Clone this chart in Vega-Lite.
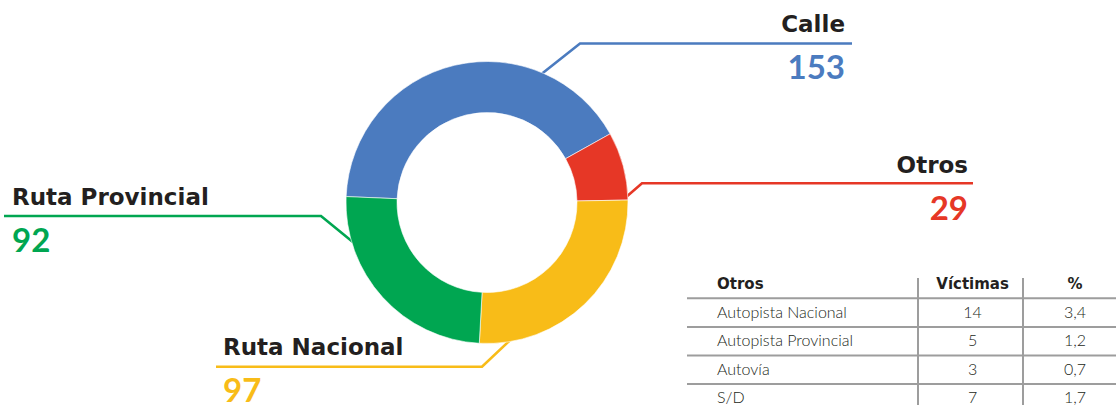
{
  "$schema": "https://vega.github.io/schema/vega-lite/v6.json",
  "width": 974,
  "height": 405,
  "autosize": {"type": "none"},
  "padding": {"left": 0, "top": 0, "right": 142, "bottom": 0},
  "background": "white",
  "config": {
    "view": {"stroke": null},
    "font": "Lato",
    "locale": {"number": {"decimal": ",", "thousands": ".", "grouping": [3], "currency": ["$", ""]}}
  },
  "datasets": {
    "tipos": [
      {"tipo": "Calle", "victimas": 153},
      {"tipo": "Otros", "victimas": 29},
      {"tipo": "Ruta Nacional", "victimas": 97},
      {"tipo": "Ruta Provincial", "victimas": 92}
    ],
    "guias": [
      {"tipo": "Calle", "punto": 1},
      {"tipo": "Calle", "punto": 2},
      {"tipo": "Calle", "punto": 3},
      {"tipo": "Otros", "punto": 4},
      {"tipo": "Otros", "punto": 5},
      {"tipo": "Otros", "punto": 6},
      {"tipo": "Ruta Provincial", "punto": 7},
      {"tipo": "Ruta Provincial", "punto": 8},
      {"tipo": "Ruta Provincial", "punto": 9},
      {"tipo": "Ruta Nacional", "punto": 10},
      {"tipo": "Ruta Nacional", "punto": 11},
      {"tipo": "Ruta Nacional", "punto": 12}
    ],
    "otros": [
      {"tipo": "Autopista Nacional", "victimas": 14, "porcentaje": 3.4},
      {"tipo": "Autopista Provincial", "victimas": 5, "porcentaje": 1.2},
      {"tipo": "Autovía", "victimas": 3, "porcentaje": 0.7},
      {"tipo": "S/D", "victimas": 7, "porcentaje": 1.7}
    ],
    "encabezado": [{"c1": "Otros", "c2": "Víctimas", "c3": "%"}]
  },
  "layer": [
    {
      "data": {"name": "guias"},
      "mark": {"type": "line", "strokeWidth": 2.6},
      "encoding": {
        "x": {"field": "punto", "type": "quantitative", "axis": null,
          "scale": {"domain": [1,2,3,4,5,6,7,8,9,10,11,12], "range": [852,580,520,973,642,610,4,321,370,216,482,515], "zero": false, "nice": false}},
        "y": {"field": "punto", "type": "quantitative", "axis": null,
          "scale": {"domain": [1,2,3,4,5,6,7,8,9,10,11,12], "range": [43.5,43.5,91,183.3,183.3,211,216,216,256,366.7,366.7,335.5], "zero": false, "nice": false}},
        "color": {"field": "tipo", "type": "nominal", "legend": null,
          "scale": {"domain": ["Calle", "Otros", "Ruta Nacional", "Ruta Provincial"], "range": ["#4b7bbf", "#e63726", "#f8bc18", "#00a651"]}},
        "order": {"field": "punto", "type": "quantitative"}
      }
    },
    {
      "data": {"name": "tipos"},
      "mark": {"type": "arc", "innerRadius": 90, "outerRadius": 141, "stroke": "white", "strokeWidth": 0.6},
      "encoding": {
        "theta": {"field": "victimas", "type": "quantitative", "stack": true, "scale": {"range": [4.7543, 11.0375]}},
        "color": {"field": "tipo", "type": "nominal", "legend": null,
          "scale": {"domain": ["Calle", "Otros", "Ruta Nacional", "Ruta Provincial"], "range": ["#4b7bbf", "#e63726", "#f8bc18", "#00a651"]}},
        "order": {"field": "tipo", "type": "ordinal"}
      }
    },
    {
      "data": {"name": "tipos"},
      "encoding": {
        "x": {"field": "victimas", "type": "quantitative", "axis": null,
          "scale": {"domain": [29, 92, 97, 153], "range": [968, 12, 223, 845], "zero": false, "nice": false}},
        "y": {"field": "victimas", "type": "quantitative", "axis": null,
          "scale": {"domain": [29, 92, 97, 153], "range": [173, 205, 355, 32], "zero": false, "nice": false}}
      },
      "layer": [
        {
          "transform": [{"filter": {"field": "tipo", "oneOf": ["Calle", "Otros"]}}],
          "mark": {"type": "text", "align": "right", "baseline": "alphabetic", "font": "DejaVu Sans", "fontSize": 23, "fontWeight": "bold", "fill": "#231f20"},
          "encoding": {"text": {"field": "tipo", "type": "nominal"}}
        },
        {
          "transform": [{"filter": {"field": "tipo", "oneOf": ["Ruta Nacional", "Ruta Provincial"]}}],
          "mark": {"type": "text", "align": "left", "baseline": "alphabetic", "font": "DejaVu Sans", "fontSize": 23, "fontWeight": "bold", "fill": "#231f20"},
          "encoding": {"text": {"field": "tipo", "type": "nominal"}}
        },
        {
          "transform": [{"filter": {"field": "tipo", "oneOf": ["Calle", "Otros"]}}],
          "mark": {"type": "text", "align": "right", "baseline": "alphabetic", "fontSize": 33, "fontWeight": "bold", "dy": 47},
          "encoding": {
            "text": {"field": "victimas", "type": "quantitative"},
            "color": {"field": "tipo", "type": "nominal", "legend": null,
              "scale": {"domain": ["Calle", "Otros", "Ruta Nacional", "Ruta Provincial"], "range": ["#4b7bbf", "#e63726", "#f8bc18", "#00a651"]}}
          }
        },
        {
          "transform": [{"filter": {"field": "tipo", "oneOf": ["Ruta Nacional", "Ruta Provincial"]}}],
          "mark": {"type": "text", "align": "left", "baseline": "alphabetic", "fontSize": 33, "fontWeight": "bold", "dy": 47},
          "encoding": {
            "text": {"field": "victimas", "type": "quantitative"},
            "color": {"field": "tipo", "type": "nominal", "legend": null,
              "scale": {"domain": ["Calle", "Otros", "Ruta Nacional", "Ruta Provincial"], "range": ["#4b7bbf", "#e63726", "#f8bc18", "#00a651"]}}
          }
        }
      ]
    },
    {
      "layer": [
        {
          "data": {"name": "otros"},
          "mark": {"type": "rule", "stroke": "#9d9d9d", "strokeWidth": 2},
          "encoding": {
            "y": {"field": "tipo", "type": "nominal", "bandPosition": 0, "axis": null,
              "scale": {"type": "band", "domain": ["Otros", "Autopista Nacional", "Autopista Provincial", "Autovía", "S/D"], "range": [269.7, 412.7], "paddingInner": 0, "paddingOuter": 0}},
            "x": {"datum": 0, "type": "quantitative", "axis": null,
              "scale": {"domain": [0, 1, 2, 3], "range": [687, 918, 1023, 1116], "zero": false, "nice": false}},
            "x2": {"datum": 3}
          }
        },
        {
          "data": {"name": "encabezado"},
          "mark": {"type": "rule", "stroke": "#9d9d9d", "strokeWidth": 2, "yOffset": -6, "y2Offset": 10},
          "encoding": {
            "x": {"datum": 1, "type": "quantitative", "axis": null},
            "y": {"datum": "Otros", "type": "nominal", "axis": null},
            "y2": {"datum": "S/D"}
          }
        },
        {
          "data": {"name": "encabezado"},
          "mark": {"type": "rule", "stroke": "#9d9d9d", "strokeWidth": 2, "yOffset": -6, "y2Offset": 10},
          "encoding": {
            "x": {"datum": 2, "type": "quantitative", "axis": null},
            "y": {"datum": "Otros", "type": "nominal", "axis": null},
            "y2": {"datum": "S/D"}
          }
        },
        {
          "data": {"name": "encabezado"},
          "mark": {"type": "text", "align": "left", "baseline": "alphabetic", "font": "DejaVu Sans", "fontSize": 15, "fontWeight": "bold", "fill": "#231f20", "dy": 5},
          "encoding": {
            "x": {"datum": 0.13, "type": "quantitative", "axis": null},
            "y": {"datum": "Otros", "type": "nominal", "axis": null},
            "text": {"field": "c1", "type": "nominal"}
          }
        },
        {
          "data": {"name": "encabezado"},
          "mark": {"type": "text", "align": "center", "baseline": "alphabetic", "font": "DejaVu Sans", "fontSize": 15, "fontWeight": "bold", "fill": "#231f20", "dy": 5},
          "encoding": {
            "x": {"datum": 1.52, "type": "quantitative", "axis": null},
            "y": {"datum": "Otros", "type": "nominal", "axis": null},
            "text": {"field": "c2", "type": "nominal"}
          }
        },
        {
          "data": {"name": "encabezado"},
          "mark": {"type": "text", "align": "center", "baseline": "alphabetic", "font": "DejaVu Sans", "fontSize": 15, "fontWeight": "bold", "fill": "#231f20", "dy": 5},
          "encoding": {
            "x": {"datum": 2.56, "type": "quantitative", "axis": null},
            "y": {"datum": "Otros", "type": "nominal", "axis": null},
            "text": {"field": "c3", "type": "nominal"}
          }
        },
        {
          "data": {"name": "otros"},
          "mark": {"type": "text", "align": "left", "baseline": "alphabetic", "fontSize": 16, "fontWeight": 300, "fill": "#231f20", "dy": 5},
          "encoding": {
            "x": {"datum": 0.13, "type": "quantitative", "axis": null},
            "y": {"field": "tipo", "type": "nominal", "axis": null},
            "text": {"field": "tipo", "type": "nominal"}
          }
        },
        {
          "data": {"name": "otros"},
          "mark": {"type": "text", "align": "center", "baseline": "alphabetic", "fontSize": 16, "fontWeight": 300, "fill": "#231f20", "dy": 5},
          "encoding": {
            "x": {"datum": 1.52, "type": "quantitative", "axis": null},
            "y": {"field": "tipo", "type": "nominal", "axis": null},
            "text": {"field": "victimas", "type": "quantitative"}
          }
        },
        {
          "data": {"name": "otros"},
          "mark": {"type": "text", "align": "center", "baseline": "alphabetic", "fontSize": 16, "fontWeight": 300, "fill": "#231f20", "dy": 5},
          "encoding": {
            "x": {"datum": 2.56, "type": "quantitative", "axis": null},
            "y": {"field": "tipo", "type": "nominal", "axis": null},
            "text": {"field": "porcentaje", "type": "quantitative", "format": ".1f"}
          }
        }
      ]
    }
  ],
  "resolve": {"scale": {"x": "independent", "y": "independent", "color": "independent"}}
}
